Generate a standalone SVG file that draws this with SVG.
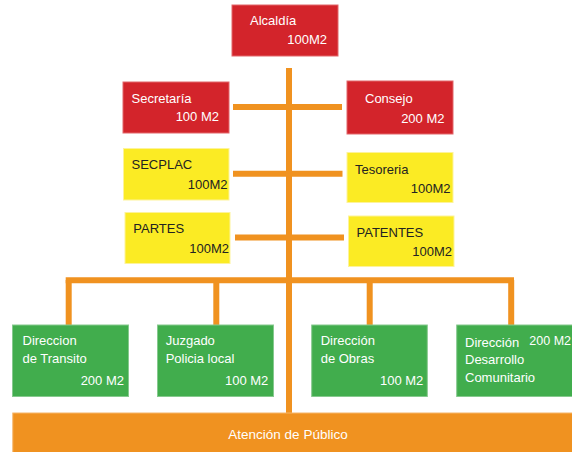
<svg xmlns="http://www.w3.org/2000/svg" width="572" height="452" viewBox="0 0 572 452">
<style>
.red{fill:#d3242b;stroke:#e2666b;stroke-width:1}
.yel{fill:#fbeb24;stroke:#fdf39a;stroke-width:1}
.grn{fill:#41ad4d;stroke:#86c98e;stroke-width:1}
.org{fill:#f09220;stroke:#f5b56a;stroke-width:1}
.ln{stroke:#f09220;stroke-width:6;fill:none}
text{font-family:"Liberation Sans",Arial,sans-serif;font-size:13px}
.w{fill:#ffffff}
.k{fill:#222222}
.r{text-anchor:end}
</style>
<g id="connectors">
<line class="ln" x1="289" y1="68" x2="289" y2="413"/>
<line class="ln" x1="233" y1="107" x2="342" y2="107"/>
<line class="ln" x1="233" y1="173.7" x2="342.5" y2="173.7"/>
<line class="ln" x1="235" y1="237.5" x2="344" y2="237.5"/>
<line class="ln" x1="65.7" y1="280.3" x2="514" y2="280.3"/>
<line class="ln" x1="68.7" y1="280" x2="68.7" y2="326"/>
<line class="ln" x1="216.3" y1="280" x2="216.3" y2="326"/>
<line class="ln" x1="369.7" y1="280" x2="369.7" y2="326"/>
<line class="ln" x1="511.2" y1="280" x2="511.2" y2="326"/>
</g>
<g id="alcaldia">
<rect class="red" x="232" y="5" width="106" height="51"/>
<text class="w" x="250" y="25">Alcaldía</text>
<text class="w r" x="327" y="44">100M2</text>
</g>
<g id="secretaria">
<rect class="red" x="123" y="82" width="106" height="51"/>
<text class="w" x="131.5" y="103">Secretaría</text>
<text class="w r" x="219" y="121">100 M2</text>
</g>
<g id="consejo">
<rect class="red" x="347" y="81" width="106" height="53"/>
<text class="w" x="365" y="102.5">Consejo</text>
<text class="w r" x="444.5" y="122.5">200 M2</text>
</g>
<g id="secplac">
<rect class="yel" x="123.5" y="148.5" width="105.5" height="51.5"/>
<text class="k" x="131.5" y="169">SECPLAC</text>
<text class="k r" x="227.5" y="188.5">100M2</text>
</g>
<g id="tesoreria">
<rect class="yel" x="347" y="152.5" width="106" height="50"/>
<text class="k" x="355" y="173.5">Tesoreria</text>
<text class="k r" x="450.5" y="192.5">100M2</text>
</g>
<g id="partes">
<rect class="yel" x="125" y="212.5" width="105" height="51"/>
<text class="k" x="133.3" y="233.3">PARTES</text>
<text class="k r" x="229" y="253.3">100M2</text>
</g>
<g id="patentes">
<rect class="yel" x="348.5" y="216" width="105.5" height="50.5"/>
<text class="k" x="356.5" y="236.7">PATENTES</text>
<text class="k r" x="452" y="255.7">100M2</text>
</g>
<g id="transito">
<rect class="grn" x="12.5" y="325" width="116" height="71.5"/>
<text class="w" x="22.5" y="345">Direccion</text>
<text class="w" x="22.5" y="362.7">de Transito</text>
<text class="w r" x="124" y="385">200 M2</text>
</g>
<g id="juzgado">
<rect class="grn" x="157.5" y="325" width="116" height="71.5"/>
<text class="w" x="165.7" y="345">Juzgado</text>
<text class="w" x="165.7" y="363.3">Policia local</text>
<text class="w r" x="268.3" y="385">100 M2</text>
</g>
<g id="obras">
<rect class="grn" x="311.7" y="325" width="115.6" height="71.5"/>
<text class="w" x="320.7" y="345">Dirección</text>
<text class="w" x="320.7" y="363">de Obras</text>
<text class="w r" x="423.3" y="385">100 M2</text>
</g>
<g id="desarrollo">
<rect class="grn" x="456.7" y="325" width="120" height="71.5"/>
<text class="w" x="465" y="346.5">Dirección</text>
<text class="w r" x="571" y="345" style="font-size:12.5px">200 M2</text>
<text class="w" x="465" y="364">Desarrollo</text>
<text class="w" x="465" y="381.7">Comunitario</text>
</g>
<g id="atencion">
<rect class="org" x="12.8" y="413" width="565" height="45"/>
<text class="w" x="288" y="439" text-anchor="middle" style="font-size:13.5px">Atención de Público</text>
</g>
</svg>
